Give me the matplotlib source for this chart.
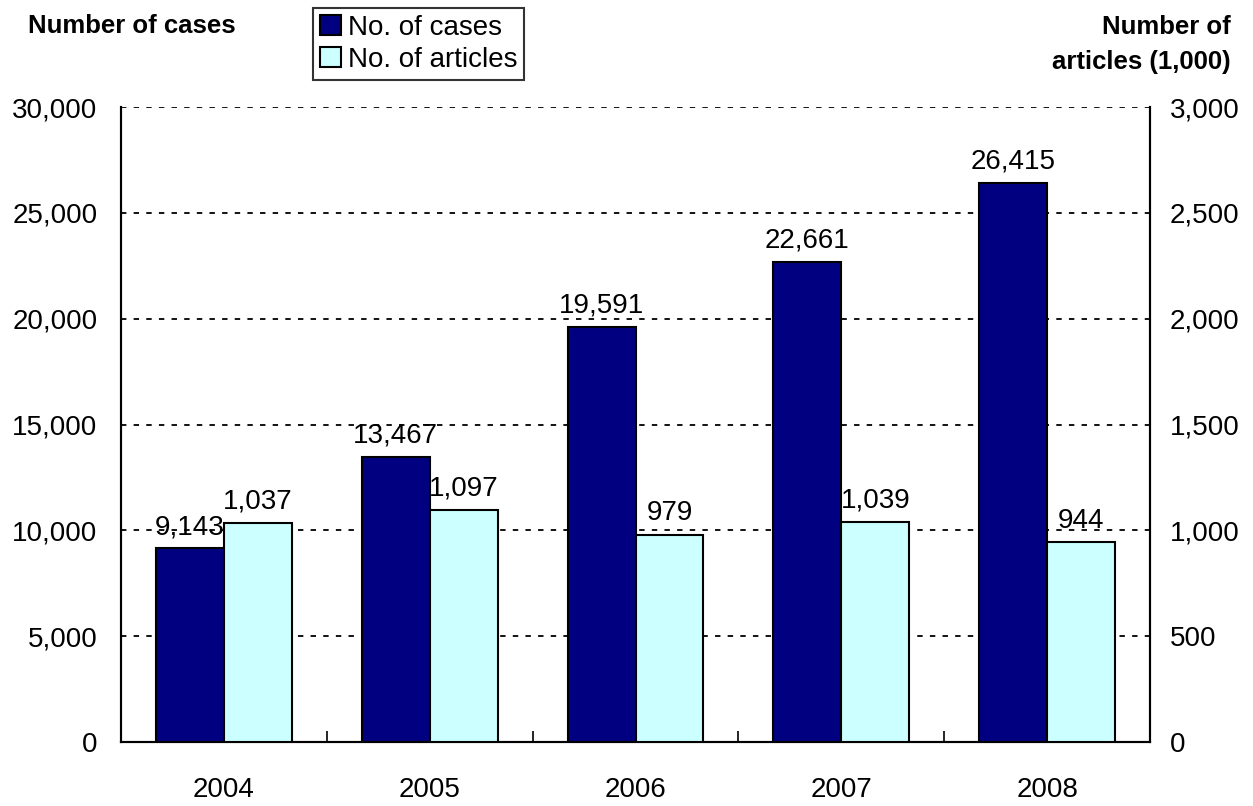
import numpy as np
import matplotlib.pyplot as plt
from matplotlib.ticker import FuncFormatter, FixedLocator

years = ['2004', '2005', '2006', '2007', '2008']
cases = [9143, 13467, 19591, 22661, 26415]
articles = [1037, 1097, 979, 1039, 944]

plt.rcParams['font.family'] = ['Liberation Sans', 'DejaVu Sans']

fig = plt.figure(figsize=(12.53, 8.06), dpi=100)
ax1 = fig.add_axes([0.0966, 0.0794, 0.8212, 0.7878])
ax2 = ax1.twinx()

x = np.arange(len(years))
w = 0.33

b1 = ax1.bar(x - w / 2, cases, w, color='#000080', edgecolor='black', linewidth=1.5,
             label='No. of cases', zorder=3)
b2 = ax2.bar(x + w / 2, articles, w, color='#CCFFFF', edgecolor='black', linewidth=1.5,
             label='No. of articles', zorder=3)

ax1.set_xlim(-0.5, len(years) - 0.5)
ax1.set_ylim(0, 30000)
ax2.set_ylim(0, 3000)
ax1.set_yticks(np.arange(0, 30001, 5000))
ax2.set_yticks(np.arange(0, 3001, 500))
fmt = FuncFormatter(lambda v, p: f'{int(v):,}')
ax1.yaxis.set_major_formatter(fmt)
ax2.yaxis.set_major_formatter(fmt)

ax1.set_xticks(x)
ax1.set_xticklabels(years)
ax1.tick_params(axis='x', which='major', length=0, labelsize=20, pad=25)
ax1.xaxis.set_minor_locator(FixedLocator(np.arange(0.5, len(years) - 1, 1)))
ax1.tick_params(axis='x', which='minor', direction='in', length=8, width=1.2)
ax1.tick_params(axis='y', labelsize=20, length=0, pad=17)
ax2.tick_params(axis='y', labelsize=20, length=0, pad=14)

ax1.yaxis.grid(True, color='black', linestyle=(0, (3, 4)), linewidth=1.3)
ax1.set_axisbelow(True)

for ax in (ax1, ax2):
    ax.spines['top'].set_visible(False)
    for s in ('left', 'right', 'bottom'):
        ax.spines[s].set_linewidth(1.5)

for rect, v in zip(b1, cases):
    ax1.text(rect.get_x() + rect.get_width() / 2, v + 400, f'{v:,}',
             ha='center', va='bottom', fontsize=20)
for rect, v in zip(b2, articles):
    ax2.text(rect.get_x() + rect.get_width() / 2, v + 40, f'{v:,}',
             ha='center', va='bottom', fontsize=20)

fig.text(0.022, 0.968, 'Number of cases', fontsize=18.5, fontweight='bold',
         ha='left', va='center')
fig.text(0.982, 0.945, 'Number of\narticles (1,000)', fontsize=18.5, fontweight='bold',
         ha='right', va='center', linespacing=1.6)

handles = [b1, b2]
leg = fig.legend(handles, ['No. of cases', 'No. of articles'], loc='upper left',
                 bbox_to_anchor=(0.25, 0.99), fontsize=20, frameon=True,
                 fancybox=False, edgecolor='black', handlelength=0.75,
                 handleheight=0.75, handletextpad=0.25, borderpad=0.25,
                 labelspacing=0.2, borderaxespad=0)
leg.get_frame().set_linewidth(1.5)

fig.savefig('out.png', dpi=100)
